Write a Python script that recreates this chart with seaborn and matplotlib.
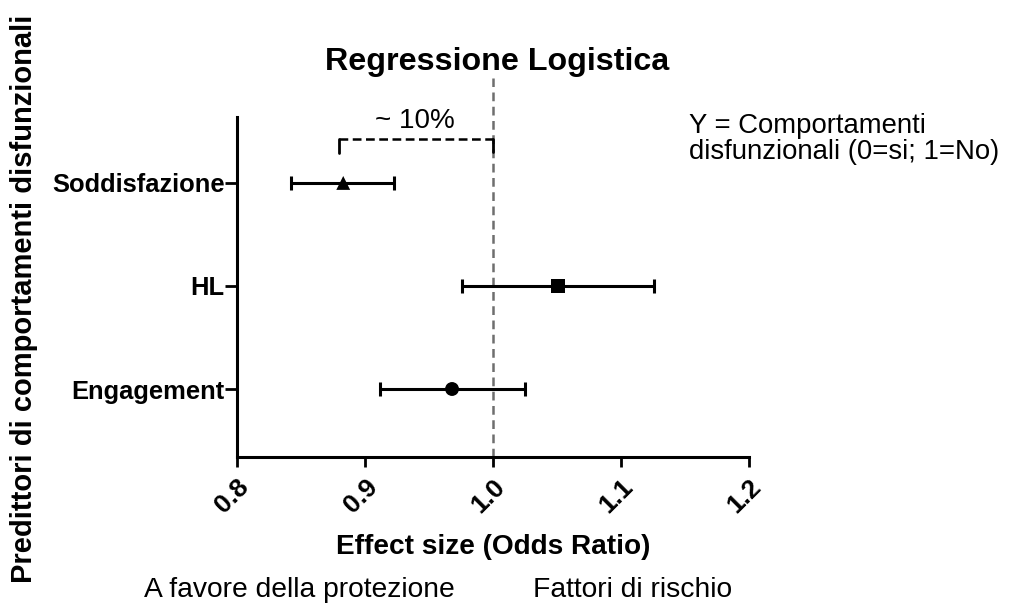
import matplotlib
matplotlib.use("Agg")
import matplotlib.pyplot as plt
import seaborn as sns
import pandas as pd

categories = ["Soddisfazione", "HL", "Engagement"]
odds_ratio = [0.883, 1.051, 0.968]
ci_low = [0.842, 0.976, 0.912]
ci_high = [0.923, 1.126, 1.025]
marker_styles = ["^", "s", "o"]
x_ticks = [0.8, 0.9, 1.0, 1.1, 1.2]
x_tick_labels = ["0.8", "0.9", "1.0", "1.1", "1.2"]

sns.set_theme(style="ticks")
plt.rcParams["font.family"] = ["Liberation Sans", "DejaVu Sans"]
for k in ["text.color", "axes.labelcolor", "xtick.color", "ytick.color"]:
    plt.rcParams[k] = "black"

ypos = [3, 2, 1]
df = pd.DataFrame({"cat": categories, "OR": odds_ratio, "lo": ci_low,
                   "hi": ci_high, "y": ypos})

fig = plt.figure(figsize=(10.1, 6.03), dpi=100)
ax = fig.add_axes([237/1010, 1-457/603, 512/1010, 340/603])

for _, r in df.iterrows():
    ax.errorbar(r["OR"], r["y"], xerr=[[r["OR"]-r["lo"]], [r["hi"]-r["OR"]]],
                fmt="none", ecolor="black", elinewidth=2.2, capsize=4.7,
                capthick=2.2, zorder=2)

sns.scatterplot(data=df, x="OR", y="y", style="cat",
                markers=dict(zip(categories, marker_styles)),
                color="black", s=100, edgecolor="black", linewidth=0,
                legend=False, ax=ax, zorder=3)

ax.axvline(1.0, ymin=0, ymax=(457-78)/340, color="#6e6e6e", lw=1.8,
           ls=(0, (3.5, 2.2)), clip_on=False, zorder=1)

# bracket "~ 10%"
yb = 3.427
ax.plot([0.880, 1.0], [yb, yb], color="black", lw=1.8, ls=(0, (3.5, 1.8)))
ax.plot([0.880, 0.880], [yb, 3.29], color="black", lw=2)
ax.plot([1.0, 1.0], [yb, 3.30], color="black", lw=2)
ax.text(0.939, 3.605, "~ 10%", ha="center", va="center", fontsize=20)

ax.set_xlim(0.8, 1.2)
ax.set_ylim(0.34, 3.64)
ax.set_xticks(x_ticks)
ax.set_xticklabels(x_tick_labels, rotation=45, ha="right", va="top",
                   rotation_mode="anchor", fontsize=19, fontweight="bold")
ax.set_yticks(ypos)
ax.set_yticklabels(categories, fontsize=18.4, fontweight="bold")
ax.tick_params(axis="x", width=2, length=7, color="black", pad=6)
ax.tick_params(axis="y", width=2, length=8.5, color="black", pad=0.5)
for s in ["left", "bottom"]:
    ax.spines[s].set_linewidth(2.2)
    ax.spines[s].set_color("black")
for s in ["top", "right"]:
    ax.spines[s].set_visible(False)
ax.set_xlabel("")
ax.set_ylabel("")

fig.text(497/1010, 1-62/603, "Regressione Logistica", ha="center", va="center",
         fontsize=23.2, fontweight="bold")
fig.text(493/1010, 1-547/603, "Effect size (Odds Ratio)", ha="center", va="center",
         fontsize=20.2, fontweight="bold")
fig.text(299/1010, 1-590/603, "A favore della protezione", ha="center", va="center",
         fontsize=20.3)
fig.text(633/1010, 1-590/603, "Fattori di rischio", ha="center", va="center",
         fontsize=20.3)
fig.text(24/1010, 1-299/603, "Predittori di comportamenti disfunzionali", ha="center",
         va="center", rotation=90, fontsize=21, fontweight="bold")
fig.text(689/1010, 1-139/603, "Y = Comportamenti\ndisfunzionali (0=si; 1=No)",
         ha="left", va="center", fontsize=19.8, linespacing=1.0)

fig.savefig("out.png", dpi=100)
